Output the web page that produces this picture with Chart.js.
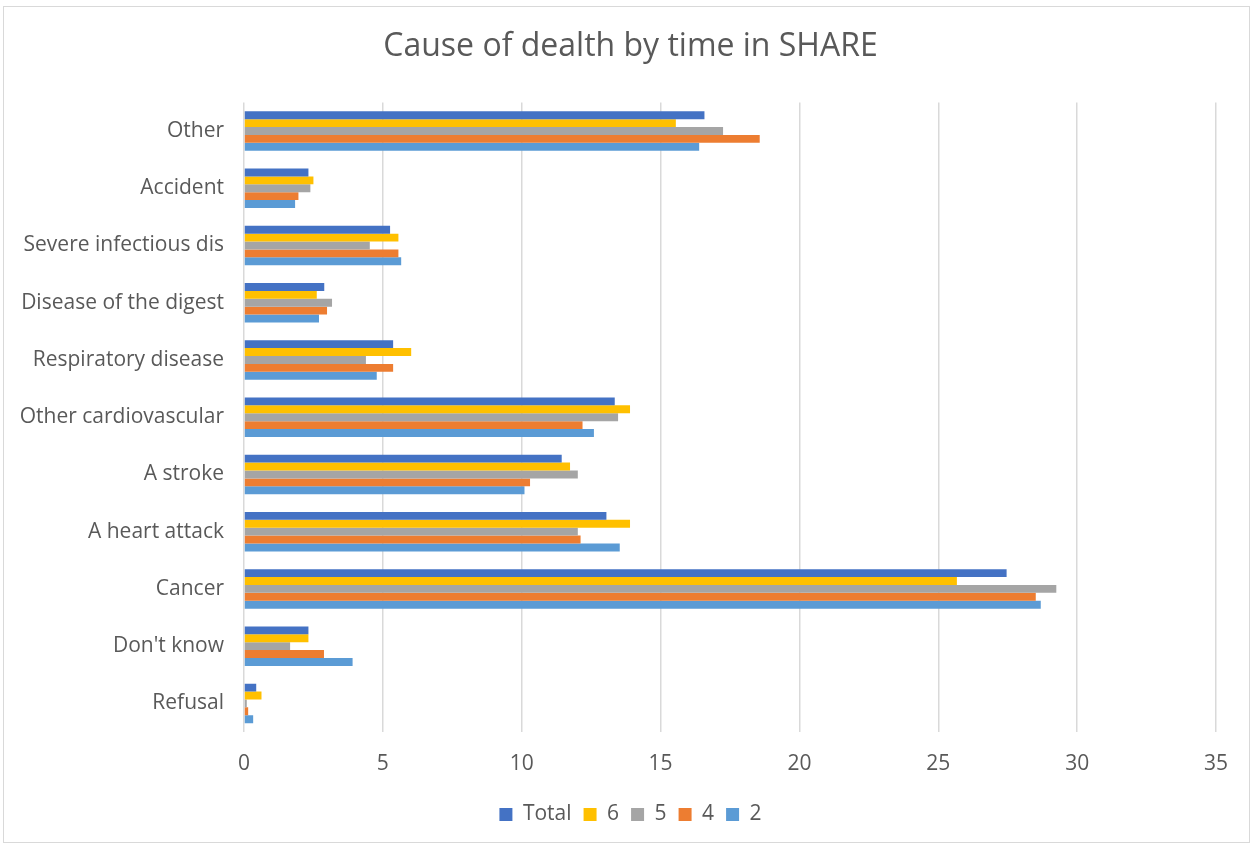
<!DOCTYPE html>
<html>
<head>
<meta charset="utf-8">
<title>Cause of dealth by time in SHARE</title>
<script src="https://cdn.jsdelivr.net/npm/chart.js@4"></script>
<style>
  html, body { margin: 0; padding: 0; background: #fff; }
  #wrap { width: 1253px; height: 846px; position: relative; }
</style>
</head>
<body>
<div id="wrap"><canvas id="myChart" width="1253" height="846"></canvas></div>
<script>
// カテゴリ（上から順）
const causes = [
  "Other",
  "Accident",
  "Severe infectious dis",
  "Disease of the digest",
  "Respiratory disease",
  "Other cardiovascular",
  "A stroke",
  "A heart attack",
  "Cancer",
  "Don't know",
  "Refusal",
];

// 系列ごとの値（%）
const total = [16.58, 2.32, 5.26, 2.89, 5.37, 13.35, 11.44, 13.05, 27.46, 2.32, 0.44];
const wave6 = [15.55, 2.5, 5.56, 2.62, 6.02, 13.9, 11.74, 13.9, 25.67, 2.32, 0.63];
const wave5 = [17.25, 2.39, 4.53, 3.17, 4.39, 13.47, 12.02, 12.02, 29.25, 1.66, 0.1];
const wave4 = [18.57, 1.96, 5.56, 2.99, 5.37, 12.19, 10.3, 12.12, 28.51, 2.88, 0.15];
const wave2 = [16.39, 1.84, 5.66, 2.7, 4.78, 12.6, 10.1, 13.53, 28.69, 3.91, 0.33];

// x軸の目盛り
const xTicks = [0, 5, 10, 15, 20, 25, 30, 35];

const textColor = "#595959";
const gridColor = "#d9d9d9";
const fontFamily = "'Open Sans', 'Noto Sans', sans-serif";

// 外枠を描くだけのプラグイン
const frame = {
  id: "frame",
  beforeDraw(chart) {
    const c = chart.ctx;
    c.save();
    c.fillStyle = "#fff";
    c.fillRect(0, 0, chart.width, chart.height);
    c.strokeStyle = gridColor;
    c.lineWidth = 1;
    c.strokeRect(3.5, 6.5, chart.width - 7, chart.height - 10);
    c.restore();
  },
};

const ctx = document.getElementById("myChart").getContext("2d");
const myChart = new Chart(ctx, {
  type: "bar",
  data: {
    labels: causes,
    datasets: [
      { label: "Total", data: total, backgroundColor: "#4472C4" },
      { label: "6", data: wave6, backgroundColor: "#FFC000" },
      { label: "5", data: wave5, backgroundColor: "#A5A5A5" },
      { label: "4", data: wave4, backgroundColor: "#ED7D31" },
      { label: "2", data: wave2, backgroundColor: "#5B9BD5" },
    ],
  },
  options: {
    indexAxis: "y",
    responsive: false,
    animation: false,
    devicePixelRatio: 1,
    datasets: {
      bar: { barPercentage: 1, categoryPercentage: 0.69 },
    },
    layout: {
      padding: { left: 12, right: 4, top: 0, bottom: 11 },
    },
    plugins: {
      title: {
        display: true,
        text: "Cause of dealth by time in SHARE",
        color: textColor,
        font: { family: fontFamily, size: 32, weight: "normal" },
        padding: { top: 28, bottom: 36 },
      },
      legend: {
        position: "bottom",
        labels: {
          color: textColor,
          font: { family: fontFamily, size: 21 },
          boxWidth: 13,
          boxHeight: 13,
          padding: 12,
        },
      },
      tooltip: { enabled: false },
    },
    scales: {
      x: {
        min: 0,
        max: 35,
        afterBuildTicks(scale) {
          scale.ticks = xTicks.map((v) => ({ value: v }));
        },
        grid: { color: gridColor, lineWidth: 1.5, drawTicks: false },
        border: { display: false },
        ticks: {
          color: textColor,
          font: { family: fontFamily, size: 21 },
          padding: 19,
        },
        afterFit(scale) {
          scale.height = 60;
        },
      },
      y: {
        grid: { display: false, drawTicks: false },
        border: { display: false },
        ticks: {
          color: textColor,
          font: { family: fontFamily, size: 21 },
          padding: 20,
        },
        afterFit(scale) {
          scale.width = 232;
        },
      },
      // 右側の余白用（何も描かない）
      y2: {
        position: "right",
        grid: { display: false, drawTicks: false },
        border: { display: false },
        ticks: { display: false },
        afterFit(scale) {
          scale.width = 33;
        },
      },
    },
  },
  plugins: [frame],
});
</script>
</body>
</html>
